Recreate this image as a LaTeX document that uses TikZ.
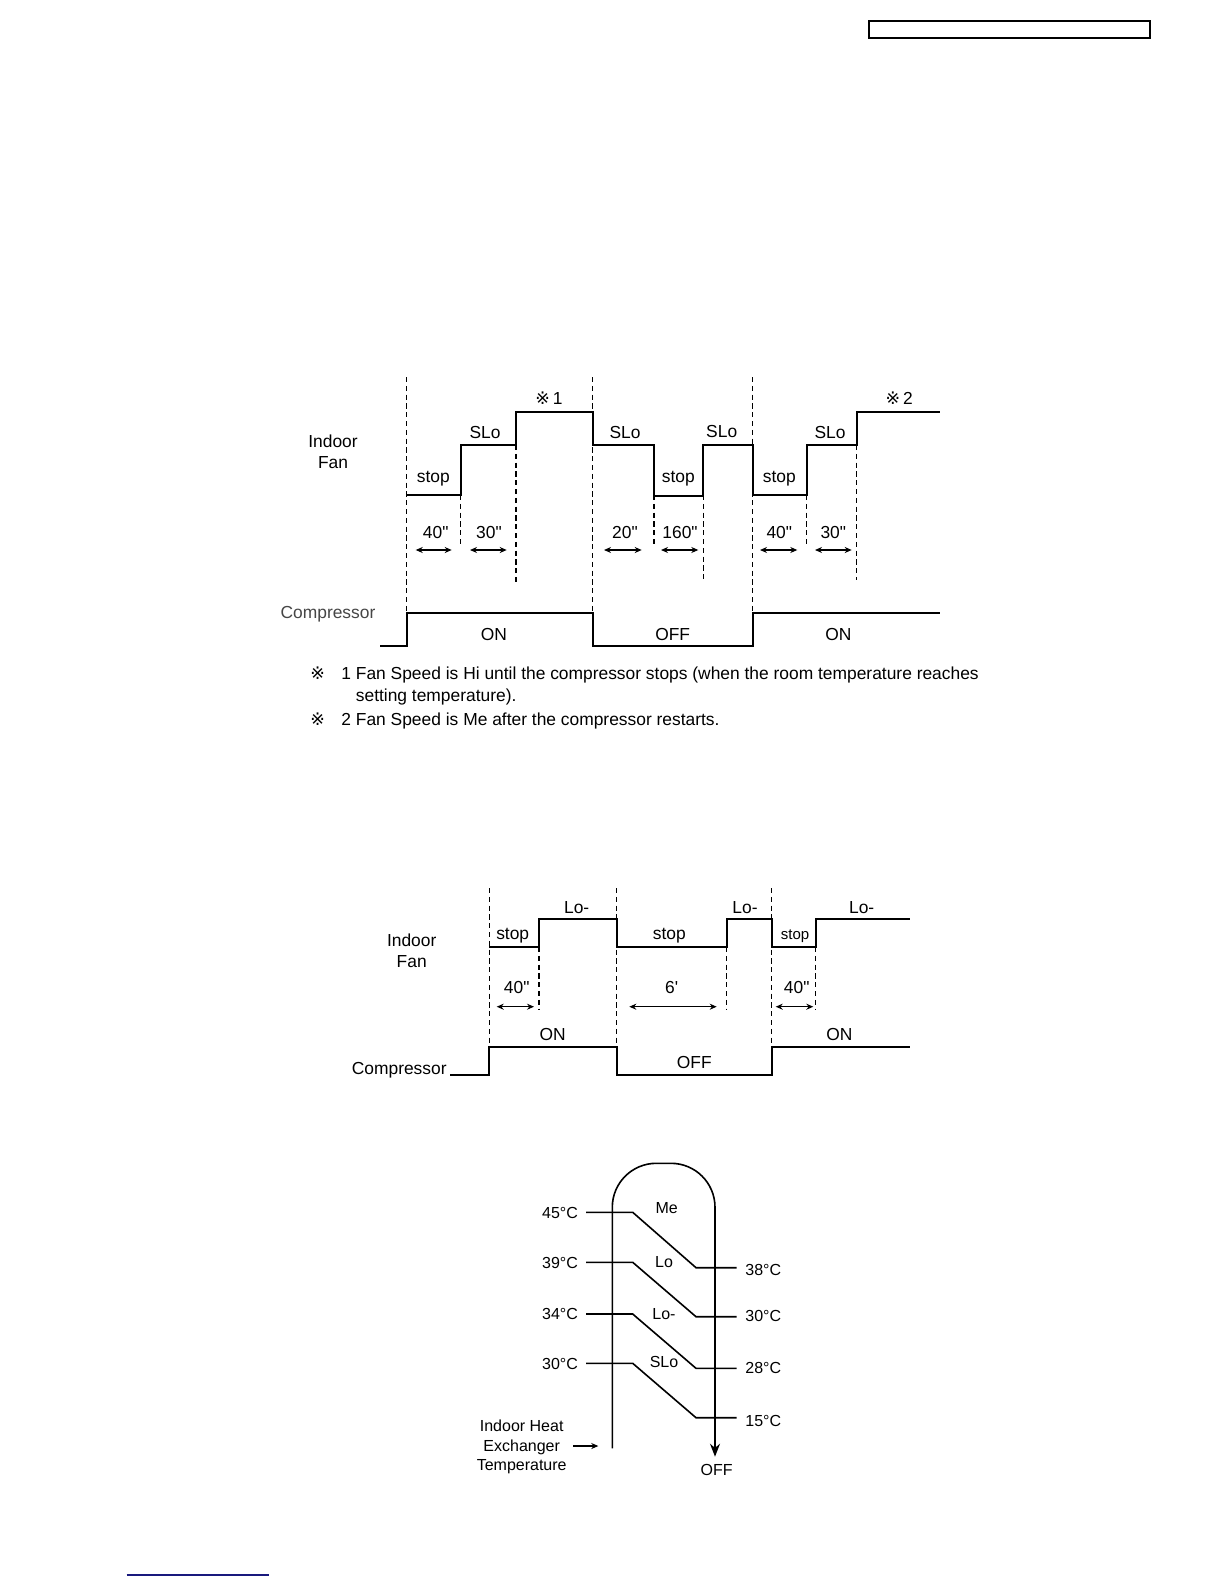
\documentclass[tikz,border=0pt]{standalone}
\usepackage{fontspec}
\setmainfont{Liberation Sans}
\newfontfamily\symfont{DejaVu Sans}
\usetikzlibrary{arrows.meta}
\definecolor{navyline}{RGB}{25,25,125}
\definecolor{compgray}{RGB}{70,70,70}
\newcommand\dq{\XeTeXglyph\XeTeXcharglyph 34\relax}
\newcommand\sq{\XeTeXglyph\XeTeXcharglyph 39\relax}
\begin{document}
\begin{tikzpicture}[x=0.5pt,y=-0.5pt,
  sig/.style={line width=1pt,line join=miter},
  thin/.style={line width=0.8pt},
  guide/.style={line width=0.6pt,dash pattern=on 2.6pt off 1.8pt},
  dim/.style={line width=0.6pt,{Stealth[length=3.5pt,width=3pt]}-{Stealth[length=3.5pt,width=3pt]}},
  lab/.style={inner sep=0pt,font=\fontsize{8.7}{10.3}\selectfont},
  labs/.style={inner sep=0pt,font=\fontsize{7.5}{9}\selectfont},
  labt/.style={inner sep=0pt,font=\fontsize{8}{9.6}\selectfont},
  note/.style={inner sep=0pt,anchor=base west,font=\fontsize{8.7}{10.3}\selectfont}]
\fill[white] (0,0) rectangle (1224,1584);
% header box and footer line
\draw[line width=0.8pt] (869,21) rectangle (1150,38);
\coordinate (fl) at (126.7,1575);
\coordinate (fr) at (269.3,1575);
\draw[navyline,line width=0.7pt] (fl) -- (fr);

% ================= Diagram 1 =================
\foreach \x/\a/\b in {406.7/377/613, 460.7/495/547, 516/445/583, 592.7/377/613, 654/495/547, 703.3/495/582, 752.7/377/613, 806.7/495/547, 856.7/445/580}
  \draw[guide] (\x,\a) -- (\x,\b);
\draw[sig] (406.7,495) -- (460.7,495) -- (460.7,445) -- (516,445) -- (516,412.3) -- (592.7,412.3) -- (592.7,445) -- (654,445) -- (654,495.5) -- (703.3,495.5) -- (703.3,445) -- (752.7,445) -- (752.7,495) -- (806.7,495) -- (806.7,445) -- (856.7,445) -- (856.7,412.3) -- (940,412.3);
\draw[sig] (380,646) -- (406.7,646) -- (406.7,613.3) -- (592.7,613.3) -- (592.7,646) -- (752.7,646) -- (752.7,613.3) -- (940,613.3);
\foreach \a/\b in {415.7/451.7, 470/506.7, 604/641.7, 661/698.3, 760/797.3, 815/851.7}
  \draw[dim] (\a,550) -- (\b,550);
\node[lab,align=center] (fan1) at (333,452) {Indoor\\Fan};
\node[lab,text=compgray] (comp1) at (328,614) {Compressor};
\node[lab] (s1a) at (433.3,479) {stop};
\node[lab] (s1b) at (678.3,479) {stop};
\node[lab] (s1c) at (779.3,479) {stop};
\node[lab] (sl1a) at (485,432.7) {SLo};
\node[lab] (sl1b) at (625,432.7) {SLo};
\node[lab] (sl1c) at (721.7,431.7) {SLo};
\node[lab] (sl1d) at (830,432.7) {SLo};
\node[lab] (m1) at (549,397.7) {{\symfont ※}\,1};
\node[lab] (m2) at (899.3,397.7) {{\symfont ※}\,2};
\node[lab] (t1a) at (435.7,532.7) {40\dq};
\node[lab] (t1b) at (489,532.7) {30\dq};
\node[lab] (t1c) at (625,532.7) {20\dq};
\node[lab] (t1d) at (680,532.7) {160\dq};
\node[lab] (t1e) at (779.3,532.7) {40\dq};
\node[lab] (t1f) at (833.3,532.7) {30\dq};
\node[lab] (on1a) at (494,635) {ON};
\node[lab] (off1) at (672.7,635) {OFF};
\node[lab] (on1b) at (838.3,635) {ON};
% notes
\node[note] (n1m) at (310,679) {{\symfont ※}};
\node[note] (n1) at (341,679) {1 Fan Speed is Hi until the compressor stops (when the room temperature reaches};
\node[note] (n1b) at (355.5,701) {setting temperature).};
\node[note] (n2m) at (310,725) {{\symfont ※}};
\node[note] (n2) at (341,725) {2 Fan Speed is Me after the compressor restarts.};

% ================= Diagram 2 =================
\foreach \x/\a/\b in {489.3/888/1047, 539/947/1010, 616.7/888/1047, 726.7/947/1010, 771.7/888/1047, 815.7/947/1010}
  \draw[guide] (\x,\a) -- (\x,\b);
\draw[sig] (489.3,946.7) -- (539,946.7) -- (539,919.3) -- (616.7,919.3) -- (616.7,946.7) -- (726.7,946.7) -- (726.7,919.3) -- (771.7,919.3) -- (771.7,946.7) -- (815.7,946.7) -- (815.7,919.3) -- (910,919.3);
\draw[sig] (450,1075) -- (489.3,1075) -- (489.3,1046.7) -- (616.7,1046.7) -- (616.7,1075) -- (771.7,1075) -- (771.7,1046.7) -- (910,1046.7);
\foreach \a/\b in {496.7/534, 629.3/716.7, 775.7/813.3}
  \draw[dim] (\a,1006.7) -- (\b,1006.7);
\node[lab,align=center] (fan2) at (411.7,951) {Indoor\\Fan};
\node[lab,anchor=east] (comp2) at (447,1070) {Compressor};
\node[lab] (s2a) at (512.7,935.7) {stop};
\node[lab] (s2b) at (669.3,935.7) {stop};
\node[labs] (s2c) at (795,935.7) {stop};
\node[lab] (lo2a) at (576.7,907.3) {Lo-};
\node[lab] (lo2b) at (745,907.3) {Lo-};
\node[lab] (lo2c) at (861.7,907.3) {Lo-};
\node[lab] (t2a) at (516.7,987.3) {40\dq};
\node[lab] (t2b) at (671.7,987.3) {6\sq};
\node[lab] (t2c) at (796.7,987.3) {40\dq};
\node[lab] (on2a) at (552.7,1034.3) {ON};
\node[lab] (off2) at (694.3,1062.3) {OFF};
\node[lab] (on2b) at (839.3,1034.3) {ON};

% ================= Diagram 3 =================
\coordinate (lb) at (612.3,1448.3);
\coordinate (ltop) at (612.3,1163.3);
\coordinate (rtop) at (715,1163.3);
\coordinate (rb) at (715,1456.7);
\draw[thin,rounded corners=22pt,-{Stealth[length=6.5pt,width=5pt]}] (lb) -- (ltop) -- (rtop) -- (rb);
\foreach \ya/\yb in {1212.3/1267.7, 1262.3/1316.7, 1314/1368.3, 1363.3/1417.7}
  \draw[thin] (586,\ya) -- (632.7,\ya) -- (696,\yb) -- (736.7,\yb);
\node[labt] (c45) at (560,1213.3) {45°C};
\node[labt] (c39) at (560,1263.3) {39°C};
\node[labt] (c34) at (560,1314) {34°C};
\node[labt] (c30) at (560,1364) {30°C};
\node[labt] (c38) at (763.3,1270) {38°C};
\node[labt] (c30b) at (763.3,1316) {30°C};
\node[labt] (c28) at (763.3,1368.3) {28°C};
\node[labt] (c15) at (763.3,1421) {15°C};
\node[labt] (me) at (666.7,1208.3) {Me};
\node[labt] (lo) at (664,1261.7) {Lo};
\node[labt] (lom) at (664,1314) {Lo-};
\node[labt] (slo) at (664,1361.7) {SLo};
\node[labt,align=center] (ihe) at (521.7,1447) {Indoor Heat\\Exchanger\\Temperature};
\coordinate (ha) at (573.3,1446);
\coordinate (hb) at (598.3,1446);
\draw[line width=0.6pt,-{Stealth[length=3.5pt,width=3pt]}] (ha) -- (hb);
\node[labt] (off3) at (716.7,1470) {OFF};
\end{tikzpicture}
\end{document}
